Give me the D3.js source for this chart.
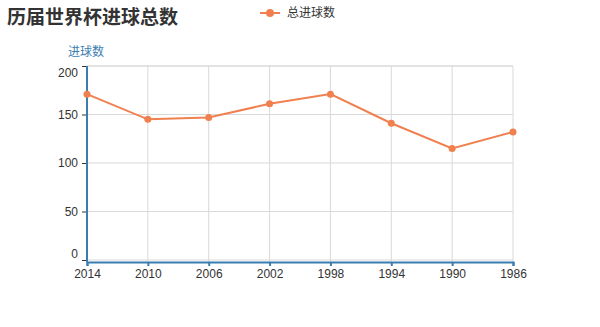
<!DOCTYPE html>
<html>
<head>
<meta charset="utf-8">
<script src="https://cdn.jsdelivr.net/npm/d3@7"></script>
<style>
  body { margin: 0; background: #fff; }
  svg text { font-family: "Liberation Sans", "Noto Sans CJK SC", sans-serif; }
</style>
</head>
<body>
<svg id="chart" width="600" height="327"></svg>
<script>
const years = ['2014', '2010', '2006', '2002', '1998', '1994', '1990', '1986'];
const goals = [171, 145, 147, 161, 171, 141, 115, 132];
const yTicks = [0, 50, 100, 150, 200];

const svg = d3.select('#chart');
const margin = { top: 66, right: 87, bottom: 65, left: 87 };
const width = 600 - margin.left - margin.right;
const height = 327 - margin.top - margin.bottom;

const x = d3.scalePoint().domain(years).range([0, width]);
const y = d3.scaleLinear().domain([0, 200]).range([height - 2, 0]);

const lineColor = '#f0804f';
const axisColor = '#3a7db0';

// title
svg.append('text')
    .attr('x', 7).attr('y', 24)
    .attr('font-size', 19).attr('font-weight', 'bold')
    .attr('fill', '#333')
    .text('历届世界杯进球总数');

// legend
const legend = svg.append('g').attr('transform', 'translate(260,13)');
legend.append('line')
    .attr('x1', 0).attr('x2', 20)
    .attr('stroke', lineColor).attr('stroke-width', 2);
legend.append('circle')
    .attr('cx', 10).attr('r', 4).attr('fill', lineColor);
legend.append('text')
    .attr('x', 27).attr('dy', '0.35em')
    .attr('font-size', 12).attr('fill', '#333')
    .text('总进球数');

const g = svg.append('g').attr('transform', `translate(${margin.left},${margin.top})`);

// grid
g.append('g').selectAll('line').data(yTicks).join('line')
    .attr('x1', 0).attr('x2', width)
    .attr('y1', d => y(d)).attr('y2', d => y(d))
    .attr('stroke', '#d9d9d9');
g.append('g').selectAll('line').data(years).join('line')
    .attr('x1', d => x(d)).attr('x2', d => x(d))
    .attr('y1', 0).attr('y2', height)
    .attr('stroke', '#d9d9d9');
g.append('line')
    .attr('x1', 0).attr('x2', width).attr('y1', 0).attr('y2', 0)
    .attr('stroke', '#d9d9d9');

// y axis
const yAxis = g.append('g')
    .call(d3.axisLeft(y).tickValues(yTicks).tickSize(5).tickPadding(4));
yAxis.select('.domain').remove();
yAxis.selectAll('.tick line').attr('stroke', '#333');
yAxis.selectAll('text').attr('font-size', 12).attr('fill', '#333')
    .attr('font-family', null)
    .attr('dy', d => d === 200 ? '0.9em' : d === 0 ? '-0.25em' : '0.32em');
g.append('line')
    .attr('x1', 0).attr('x2', 0).attr('y1', 0).attr('y2', height)
    .attr('stroke', axisColor).attr('stroke-width', 2);

// x axis
const xAxis = g.append('g').attr('transform', `translate(0,${height})`)
    .call(d3.axisBottom(x).tickSize(4).tickPadding(3));
xAxis.select('.domain').attr('stroke', axisColor).attr('stroke-width', 2);
xAxis.selectAll('.tick line').attr('stroke', axisColor).attr('stroke-width', 2);
xAxis.selectAll('text').attr('font-size', 12).attr('fill', '#333')
    .attr('font-family', null);

// axis name
g.append('text')
    .attr('x', -19).attr('y', -10)
    .attr('font-size', 12).attr('fill', axisColor)
    .text('进球数');

// line + points
const data = years.map((yr, i) => ({ year: yr, value: goals[i] }));
g.append('path')
    .datum(data)
    .attr('fill', 'none')
    .attr('stroke', lineColor)
    .attr('stroke-width', 2)
    .attr('d', d3.line().x(d => x(d.year)).y(d => y(d.value)));
g.append('g').selectAll('circle').data(data).join('circle')
    .attr('cx', d => x(d.year)).attr('cy', d => y(d.value))
    .attr('r', 3.5).attr('fill', lineColor);
</script>
</body>
</html>
